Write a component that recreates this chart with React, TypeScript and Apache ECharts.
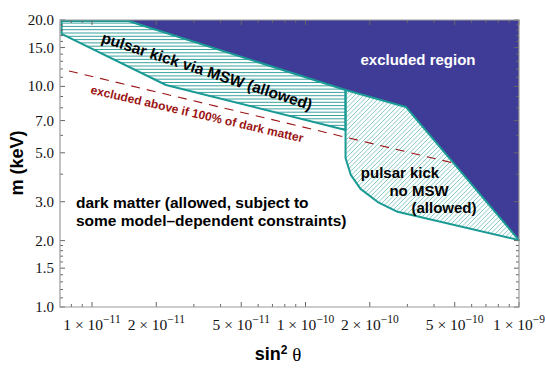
import React, { useEffect, useRef } from 'react';
import * as echarts from 'echarts';

const X_RANGE = [7.08e-12, 1e-9];
const Y_RANGE = [1, 20];

const xMajorTicks = [1e-11, 2e-11, 5e-11, 1e-10, 2e-10, 5e-10, 1e-9];
const xMinorTicks = [8e-12, 9e-12, 3e-11, 4e-11, 6e-11, 7e-11, 8e-11, 9e-11, 3e-10, 4e-10, 6e-10, 7e-10, 8e-10, 9e-10];
const yMajorTicks = [1, 1.5, 2, 3, 5, 7, 10, 15, 20];
const yMajorLabels = ['1.0', '1.5', '2.0', '3.0', '5.0', '7.0', '10.0', '15.0', '20.0'];
const yMinorTicks = [1.1, 1.2, 1.3, 1.4, 1.6, 1.7, 1.8, 1.9, 4, 6, 8, 9, 11, 12, 13, 14, 16, 17, 18, 19];

// regions: [sin^2 theta, m (keV)]
const excludedRegion = [[1.46e-11, 20], [1.54e-10, 9.63], [2.95e-10, 8.07], [1e-9, 2.01], [1e-9, 20]];
const mswRegion = [[7.2e-12, 19.8], [7.2e-12, 17.3], [2.22e-11, 10.15], [1.54e-10, 6.35], [1.54e-10, 9.63], [1.48e-11, 19.8]];
const noMswRegion = [[1.54e-10, 9.63], [2.95e-10, 8.07], [1e-9, 2.01], [2.7e-10, 2.7], [2.18e-10, 2.99], [1.81e-10, 3.43], [1.63e-10, 3.97], [1.54e-10, 4.74]];
const dmLimitLine = [[7.8e-12, 11.75], [4.9e-10, 4.5]];

const SANS = "'Liberation Sans', Arial, Helvetica, sans-serif";
const SERIF = "'Liberation Serif', 'Times New Roman', serif";
const TEAL = '#1a9a94';
const NAVY = '#3f3c98';
const DARKRED = '#9b1414';

function hatchLines(pts: number[][], step: number, diag: boolean) {
  const tr = pts.map(([x, y]) => (diag ? [x + y, x - y] : [y, x]));
  let uMin = Infinity;
  let uMax = -Infinity;
  tr.forEach(([u]) => {
    uMin = Math.min(uMin, u);
    uMax = Math.max(uMax, u);
  });
  const out: number[][] = [];
  for (let u = Math.ceil(uMin / step) * step; u <= uMax; u += step) {
    const vs: number[] = [];
    for (let i = 0; i < tr.length; i++) {
      const a = tr[i];
      const b = tr[(i + 1) % tr.length];
      if ((a[0] <= u && u < b[0]) || (b[0] <= u && u < a[0])) {
        const t = (u - a[0]) / (b[0] - a[0]);
        vs.push(a[1] + t * (b[1] - a[1]));
      }
    }
    vs.sort((p, q) => p - q);
    for (let k = 0; k + 1 < vs.length; k += 2) {
      const v1 = vs[k];
      const v2 = vs[k + 1];
      if (diag) out.push([(u + v1) / 2, (u - v1) / 2, (u + v2) / 2, (u - v2) / 2]);
      else out.push([v1, u, v2, u]);
    }
  }
  return out;
}

function regionSeries(points: number[][], opts: any) {
  return {
    type: 'custom',
    coordinateSystem: 'cartesian2d',
    data: points,
    z: opts.z,
    silent: true,
    renderItem: (params: any, api: any) => {
      if (params.dataIndex !== 0) return null;
      const px = points.map((p) => api.coord(p));
      const children: any[] = [];
      if (opts.fill) children.push({ type: 'polygon', shape: { points: px }, style: { fill: opts.fill } });
      if (opts.hatch) {
        hatchLines(px, opts.hatch.step, opts.hatch.diag).forEach(([x1, y1, x2, y2]) =>
          children.push({ type: 'line', shape: { x1, y1, x2, y2 }, style: { stroke: opts.hatch.color, lineWidth: opts.hatch.width } })
        );
      }
      if (opts.stroke)
        children.push({
          type: 'polygon',
          shape: { points: px },
          style: { fill: 'none', stroke: opts.stroke, lineWidth: opts.strokeWidth, lineJoin: 'round' },
        });
      return { type: 'group', children };
    },
  };
}

function xLabel(v: number) {
  const e = Math.floor(Math.log10(v) + 1e-9);
  const m = Math.round(v / Math.pow(10, e));
  return `{m|${m} × 10}{s|−${-e}}`;
}

const frameSeries = {
  type: 'custom',
  coordinateSystem: 'cartesian2d',
  data: [[X_RANGE[0], Y_RANGE[0]]],
  z: 20,
  silent: true,
  renderItem: (params: any, api: any) => {
    if (params.dataIndex !== 0) return null;
    const [x0, y0] = api.coord([X_RANGE[0], Y_RANGE[0]]);
    const [x1, y1] = api.coord([X_RANGE[1], Y_RANGE[1]]);
    const children: any[] = [];
    const tickStyle = { stroke: '#666', lineWidth: 1 };
    const addX = (v: number, len: number) => {
      const [px] = api.coord([v, Y_RANGE[0]]);
      children.push({ type: 'line', shape: { x1: px, y1: y0, x2: px, y2: y0 - len }, style: tickStyle });
      children.push({ type: 'line', shape: { x1: px, y1: y1, x2: px, y2: y1 + len }, style: tickStyle });
    };
    const addY = (v: number, len: number) => {
      const [, py] = api.coord([X_RANGE[0], v]);
      children.push({ type: 'line', shape: { x1: x0, y1: py, x2: x0 + len, y2: py }, style: tickStyle });
      children.push({ type: 'line', shape: { x1: x1, y1: py, x2: x1 - len, y2: py }, style: tickStyle });
    };
    xMajorTicks.forEach((v) => addX(v, 5));
    xMinorTicks.forEach((v) => addX(v, 3));
    yMajorTicks.forEach((v) => addY(v, 5));
    yMinorTicks.forEach((v) => addY(v, 3));
    children.push({
      type: 'rect',
      shape: { x: x0, y: y1, width: x1 - x0, height: y0 - y1 },
      style: { fill: 'none', stroke: '#999', lineWidth: 1.2 },
    });
    yMajorTicks.forEach((v, i) => {
      const [, py] = api.coord([X_RANGE[0], v]);
      children.push({
        type: 'text',
        style: {
          x: x0 - 6,
          y: py,
          text: yMajorLabels[i],
          align: 'right',
          verticalAlign: 'middle',
          fill: '#111',
          fontSize: 15,
          fontFamily: SERIF,
        },
      });
    });
    xMajorTicks.forEach((v) => {
      const [px] = api.coord([v, Y_RANGE[0]]);
      children.push({
        type: 'text',
        style: {
          x: px,
          y: y0 + 17,
          text: xLabel(v),
          align: 'center',
          verticalAlign: 'middle',
          fill: '#111',
          rich: {
            m: { fontSize: 15.5, fontFamily: SERIF, fill: '#111' },
            s: { fontSize: 11.5, fontFamily: SERIF, fill: '#111', padding: [0, 0, 10, 0] },
          },
        },
      });
    });
    return { type: 'group', children };
  },
};

const deg = Math.PI / 180;

export default function App() {
  const ref = useRef<HTMLDivElement>(null);
  useEffect(() => {
    if (!ref.current) return;
    const chart = echarts.init(ref.current, null, { renderer: 'svg' });
    chart.setOption({
      animation: false,
      backgroundColor: '#fff',
      grid: { left: 60, top: 20, width: 459, height: 287 },
      xAxis: {
        type: 'log',
        min: X_RANGE[0],
        max: X_RANGE[1],
        axisLine: { show: false },
        axisTick: { show: false },
        axisLabel: { show: false },
        splitLine: { show: false },
      },
      yAxis: {
        type: 'log',
        min: Y_RANGE[0],
        max: Y_RANGE[1],
        axisLine: { show: false },
        axisTick: { show: false },
        axisLabel: { show: false },
        splitLine: { show: false },
      },
      series: [
        regionSeries(excludedRegion, { z: 2, fill: NAVY }),
        regionSeries(mswRegion, {
          z: 3,
          hatch: { step: 3.3, diag: false, color: '#3aa39e', width: 1 },
          stroke: TEAL,
          strokeWidth: 2,
        }),
        regionSeries(noMswRegion, {
          z: 3,
          hatch: { step: 4.5, diag: true, color: '#7cc4c0', width: 0.9 },
          stroke: TEAL,
          strokeWidth: 2,
        }),
        {
          type: 'line',
          data: dmLimitLine,
          z: 4,
          showSymbol: false,
          silent: true,
          lineStyle: { color: DARKRED, width: 1.1, type: [9, 7] },
        },
        frameSeries,
      ],
      graphic: [
        {
          type: 'text', x: 418, y: 59, z: 100,
          style: { text: 'excluded region', fill: '#fff', fontSize: 15, fontWeight: 'bold', fontFamily: SANS, align: 'center', verticalAlign: 'middle' },
        },
        {
          type: 'text', x: 207, y: 71, rotation: -18 * deg, z: 100,
          style: { text: 'pulsar kick via MSW (allowed)', fill: '#000', fontSize: 15.5, fontWeight: 'bold', fontFamily: SANS, align: 'center', verticalAlign: 'middle' },
        },
        {
          type: 'text', x: 197, y: 114, rotation: -13 * deg, z: 100,
          style: { text: 'excluded above if 100% of dark matter', fill: DARKRED, fontSize: 12, fontWeight: 'bold', fontFamily: SANS, align: 'center', verticalAlign: 'middle' },
        },
        {
          type: 'text', x: 400, y: 172, z: 100,
          style: { text: 'pulsar kick', fill: '#000', fontSize: 15, fontWeight: 'bold', fontFamily: SANS, align: 'center', verticalAlign: 'middle' },
        },
        {
          type: 'text', x: 419, y: 190, z: 100,
          style: { text: 'no MSW', fill: '#000', fontSize: 15, fontWeight: 'bold', fontFamily: SANS, align: 'center', verticalAlign: 'middle' },
        },
        {
          type: 'text', x: 444, y: 207, z: 100,
          style: { text: '(allowed)', fill: '#000', fontSize: 15, fontWeight: 'bold', fontFamily: SANS, align: 'center', verticalAlign: 'middle' },
        },
        {
          type: 'text', x: 76, y: 202, z: 100,
          style: { text: 'dark matter (allowed, subject to', fill: '#000', fontSize: 15.5, fontWeight: 'bold', fontFamily: SANS, align: 'left', verticalAlign: 'middle' },
        },
        {
          type: 'text', x: 76, y: 220, z: 100,
          style: { text: 'some model–dependent constraints)', fill: '#000', fontSize: 15.5, fontWeight: 'bold', fontFamily: SANS, align: 'left', verticalAlign: 'middle' },
        },
        {
          type: 'text', x: 17, y: 163, rotation: 90 * deg, z: 100,
          style: { text: 'm (keV)', fill: '#000', fontSize: 18, fontWeight: 'bold', fontFamily: SANS, align: 'center', verticalAlign: 'middle' },
        },
        {
          type: 'text', x: 278, y: 354, z: 100,
          style: {
            text: '{a|sin}{b|2}{c| θ}',
            align: 'center',
            verticalAlign: 'middle',
            rich: {
              a: { fontSize: 18, fontWeight: 'bold', fontFamily: SANS, fill: '#000' },
              b: { fontSize: 12, fontWeight: 'bold', fontFamily: SANS, fill: '#000', padding: [0, 0, 9, 0] },
              c: { fontSize: 19, fontFamily: SERIF, fill: '#000' },
            },
          },
        },
      ],
    });
    return () => chart.dispose();
  }, []);
  return <div ref={ref} style={{ position: 'absolute', left: 0, top: 0, width: 545, height: 368 }} />;
}
